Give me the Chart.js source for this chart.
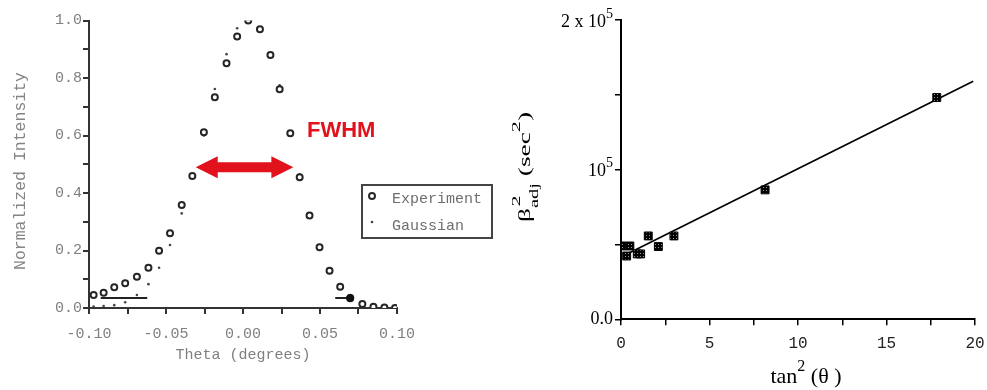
<!DOCTYPE html>
<html><head><meta charset="utf-8">
<script src="https://cdn.jsdelivr.net/npm/chart.js@4.4.1/dist/chart.umd.min.js"></script>
<style>
html,body{margin:0;padding:0;background:#fff;}
#wrap{position:relative;width:987px;height:390px;overflow:hidden;background:#fff;}
#c1box{position:absolute;left:0;top:0;width:520px;height:390px;}
#c2box{position:absolute;left:450px;top:0;width:537px;height:390px;}
</style></head><body>
<div id="wrap"><div id="c1box"><canvas id="c1"></canvas></div><div id="c2box"><canvas id="c2"></canvas></div></div>
<script>
// ---------- Left chart data ----------
const thetaDeg = [-0.097,-0.0905,-0.0836,-0.0765,-0.0689,-0.0614,-0.0545,-0.0474,-0.0398,-0.0329,-0.0254,-0.0183,-0.0107,-0.0038,0.0034,0.011,0.0178,0.0238,0.0307,0.0368,0.0432,0.0497,0.0562,0.0631,0.0696,0.0775,0.0847,0.0918,0.0987];
const expIntensity = [0.045,0.053,0.072,0.086,0.109,0.140,0.199,0.260,0.358,0.459,0.611,0.733,0.851,0.944,1.000,0.970,0.880,0.761,0.608,0.455,0.322,0.211,0.130,0.074,0.034,0.014,0.004,0.002,0.0];
const gaussIntensity = [0.005,0.007,0.010,0.020,0.045,0.083,0.140,0.219,0.329,0.455,0.600,0.762,0.883,0.973,1.000,0.975,0.885,0.775,0.615,0.465,0.325,0.210,0.122,0.066,0.031,0.012,0.004,0.001,0.0];
const baseLeftX = [-0.0924,-0.0622];
const baseLeftY = [0.035,0.035];
const baseRightX = [0.0599,0.0696];
const baseRightY = [0.035,0.035];
const fwhmArrowX = [-0.0307,0.0327];
const fwhmArrowY = 0.49;
const leftXTicks = [-0.1,-0.075,-0.05,-0.025,0,0.025,0.05,0.075,0.1];
const leftXLabels = ['-0.10','','-0.05','','0.00','','0.05','','0.10'];
const leftYTicks = [0,0.1,0.2,0.3,0.4,0.5,0.6,0.7,0.8,0.9,1.0];
const leftYLabels = ['0.0','','0.2','','0.4','','0.6','','0.8','','1.0'];
const leftLegend = ['Experiment','Gaussian'];
const leftYTitle = 'Normalized Intensity';

// ---------- Right chart data ----------
const tan2Theta = [0.05,0.5,0.32,0.92,1.11,1.54,2.11,2.99,8.14,17.84];
const betaAdj2 = [49000,49000,42300,43700,43700,55700,48600,55700,86500,148200];
const fitX = [0.4,19.9];
const fitY = [44000,159000];
const rightXTicks = [0,2.5,5,7.5,10,12.5,15,17.5,20];
const rightXLabels = ['0','','5','','10','','15','','20'];
const rightYTicks = [0,50000,100000,150000,200000];
const rightYLabelVals = [0,100000,200000];
const rightYLabelMain = ['0.0','10','2 x 10'];
const rightYLabelSup = ['','5','5'];

const pairs = (xs, ys) => xs.map((x,i)=>({x:x, y:ys[i]}));
const MONO = '"Liberation Mono", "DejaVu Sans Mono", monospace';
const SERIF = '"Liberation Serif", "DejaVu Serif", serif';
const GRAYTXT = '#7f7f7f';

// ---------- Left chart ----------
const leftPlugin = {
  id:'leftExtras',
  afterDatasetsDraw(chart){
    const ctx = chart.ctx, xs = chart.scales.x, ys = chart.scales.y;
    // FWHM arrow
    const x1 = xs.getPixelForValue(fwhmArrowX[0]), x2 = xs.getPixelForValue(fwhmArrowX[1]);
    const y = ys.getPixelForValue(fwhmArrowY);
    const head = 22, hh = 11, sh = 5;
    ctx.save();
    ctx.fillStyle = '#e1121c';
    ctx.beginPath();
    ctx.moveTo(x1,y); ctx.lineTo(x1+head,y-hh); ctx.lineTo(x1+head,y-sh);
    ctx.lineTo(x2-head,y-sh); ctx.lineTo(x2-head,y-hh); ctx.lineTo(x2,y);
    ctx.lineTo(x2-head,y+hh); ctx.lineTo(x2-head,y+sh); ctx.lineTo(x1+head,y+sh);
    ctx.lineTo(x1+head,y+hh); ctx.closePath(); ctx.fill();
    // FWHM label
    ctx.font = 'bold 22px "Liberation Sans", Arial, sans-serif';
    ctx.textBaseline = 'middle'; ctx.textAlign = 'left';
    ctx.fillText('FWHM', 307, 131);
    // legend box
    ctx.strokeStyle = '#444'; ctx.lineWidth = 2;
    ctx.strokeRect(362,185,130,53);
    ctx.beginPath(); ctx.arc(372,196,3,0,Math.PI*2);
    ctx.fillStyle='#fff'; ctx.fill(); ctx.strokeStyle='#2a2a2a'; ctx.stroke();
    ctx.beginPath(); ctx.arc(372,222,1.3,0,Math.PI*2); ctx.fillStyle='#444'; ctx.fill();
    ctx.fillStyle = '#6e6e6e';
    ctx.font = '15px ' + MONO;
    ctx.fillText(leftLegend[0], 392, 199);
    ctx.fillText(leftLegend[1], 392, 226);
    // y title
    ctx.translate(21, 171);
    ctx.rotate(-Math.PI/2);
    ctx.textAlign = 'center';
    ctx.fillStyle = '#858585';
    ctx.font = '16.5px ' + MONO;
    ctx.fillText(leftYTitle, 0, 0);
    ctx.restore();
  }
};

new Chart(document.getElementById('c1'), {
  type:'scatter',
  data:{datasets:[
    {label:'baseL', data:pairs(baseLeftX, baseLeftY), showLine:true, borderColor:'#222', borderWidth:2, pointRadius:0},
    {label:'baseR', data:pairs(baseRightX, baseRightY), showLine:true, borderColor:'#222', borderWidth:2, pointRadius:[0,3.6], pointBackgroundColor:'#111', pointBorderColor:'#111', pointBorderWidth:1},
    {label:leftLegend[0], data:pairs(thetaDeg, expIntensity), pointStyle:'circle', pointRadius:3, pointBorderWidth:2, pointBorderColor:'#262626', pointBackgroundColor:'#fff'},
    {label:leftLegend[1], data:pairs(thetaDeg, gaussIntensity), pointStyle:'circle', pointRadius:1.3, pointBorderWidth:0, pointBackgroundColor:'#444', pointBorderColor:'#444'}
  ]},
  options:{
    responsive:true, maintainAspectRatio:false, animation:false,
    layout:{padding:{left:0, top:20.5, right:123, bottom:0}},
    plugins:{legend:{display:false}, tooltip:{enabled:false}},
    scales:{
      x:{type:'linear', min:-0.1, max:0.1,
        afterBuildTicks:s=>{s.ticks = leftXTicks.map(v=>({value:v}));},
        afterFit:s=>{s.height = 82; s.paddingLeft = 0; s.paddingRight = 0;},
        grid:{display:true, drawOnChartArea:false, drawTicks:true, tickLength:6, color:'#333', lineWidth:2},
        border:{display:true, color:'#333', width:2},
        ticks:{autoSkip:false, maxRotation:0, padding:11, color:GRAYTXT, font:{family:MONO, size:15},
          callback:(v,i)=>leftXLabels[i]},
        title:{display:true, text:'Theta (degrees)', color:GRAYTXT, font:{family:MONO, size:15}, padding:{top:0,bottom:26}}
      },
      y:{type:'linear', min:0, max:1,
        afterBuildTicks:s=>{s.ticks = leftYTicks.map(v=>({value:v}));},
        afterFit:s=>{s.width = 89; s.paddingTop = 0; s.paddingBottom = 0;},
        grid:{display:true, drawOnChartArea:false, drawTicks:true, tickLength:6, color:'#333', lineWidth:2},
        border:{display:true, color:'#333', width:2},
        ticks:{autoSkip:false, padding:1, color:GRAYTXT, font:{family:MONO, size:15},
          callback:(v,i)=>leftYLabels[i]}
      }
    }
  },
  plugins:[leftPlugin]
});

// ---------- Right chart ----------
const pat = document.createElement('canvas'); pat.width = 3; pat.height = 3;
const pctx = pat.getContext('2d');
pctx.fillStyle = '#000'; pctx.fillRect(0,0,3,3);
pctx.fillStyle = '#999'; pctx.fillRect(1,1,1,1);
const c2ctx = document.getElementById('c2').getContext('2d');
const squareFill = c2ctx.createPattern(pat, 'repeat');

function drawParts(ctx, parts, x, y, align){
  let total = 0;
  parts.forEach(p=>{ctx.font = p.size+'px '+SERIF; p.w = ctx.measureText(p.t).width; total += p.w;});
  let cx = align === 'right' ? x - total : x;
  parts.forEach(p=>{ctx.font = p.size+'px '+SERIF; ctx.fillText(p.t, cx, y + (p.dy||0)); cx += p.w;});
}

const rightPlugin = {
  id:'rightExtras',
  afterDraw(chart){
    const ctx = chart.ctx, ys = chart.scales.y, ca = chart.chartArea;
    ctx.save();
    ctx.fillStyle = '#000';
    ctx.textBaseline = 'middle'; ctx.textAlign = 'left';
    // y tick labels
    rightYLabelVals.forEach((v,i)=>{
      const py = ys.getPixelForValue(v) + (i===0?0:2);
      const parts = [{t:rightYLabelMain[i], size:18, dy:0}];
      if (rightYLabelSup[i]) parts.push({t:rightYLabelSup[i], size:14, dy:-8});
      drawParts(ctx, parts, ca.left - 8, py, 'right');
    });
    // x title: tan^2(θ )
    ctx.textBaseline = 'alphabetic';
    const midX = (ca.left + ca.right)/2;
    const xt = [{t:'tan', size:22, dy:0},{t:'2', size:16, dy:-12},{t:' (θ )', size:22, dy:0}];
    let tw = 0; xt.forEach(p=>{ctx.font=p.size+'px '+SERIF; tw += ctx.measureText(p.t).width;});
    drawParts(ctx, xt, midX + 8 - tw/2, 383, 'left');
    ctx.restore();
    // y title: β_adj^2 (sec^2), rotated, stretched along text direction
    const baseX = 530 - 450, startY = 222, targetLen = 110;
    const yparts = [
      {t:'β', size:16, dy:0, adv:true},
      {t:'adj', size:12, dy:8, adv:false},
      {t:'2', size:13, dy:-10, adv:'max'},
      {t:' (sec', size:16, dy:0, adv:true},
      {t:'2', size:13, dy:-10, adv:true},
      {t:')', size:16, dy:0, adv:true}
    ];
    yparts.forEach(p=>{ctx.font=p.size+'px '+SERIF; p.w = ctx.measureText(p.t).width;});
    let nat = 0;
    for (let i=0;i<yparts.length;i++){
      const p = yparts[i];
      if (p.adv === false){ nat += Math.max(p.w, yparts[i+1].w); i++; }
      else nat += p.w;
    }
    const sx = targetLen / nat;
    ctx.save();
    ctx.fillStyle = '#000'; ctx.textBaseline = 'alphabetic'; ctx.textAlign = 'left';
    ctx.translate(baseX, startY);
    ctx.rotate(-Math.PI/2);
    ctx.scale(sx, 1);
    let cx = 0;
    for (let i=0;i<yparts.length;i++){
      const p = yparts[i];
      ctx.font = p.size+'px '+SERIF;
      if (p.adv === false){
        const q = yparts[i+1];
        ctx.fillText(p.t, cx, p.dy);
        ctx.font = q.size+'px '+SERIF;
        ctx.fillText(q.t, cx + 1, q.dy);
        cx += Math.max(p.w, q.w); i++;
      } else {
        ctx.fillText(p.t, cx, p.dy); cx += p.w;
      }
    }
    ctx.restore();
  }
};

new Chart(document.getElementById('c2'), {
  type:'scatter',
  data:{datasets:[
    {label:'data', data:pairs(tan2Theta, betaAdj2), pointStyle:'rect', pointRadius:5.6, pointBackgroundColor:squareFill, pointBorderColor:'#000', pointBorderWidth:1},
    {label:'fit', data:pairs(fitX, fitY), showLine:true, borderColor:'#000', borderWidth:1.7, pointRadius:0}
  ]},
  options:{
    responsive:true, maintainAspectRatio:false, animation:false,
    layout:{padding:{left:0, top:20, right:12, bottom:0}},
    plugins:{legend:{display:false}, tooltip:{enabled:false}},
    scales:{
      x:{type:'linear', min:0, max:20,
        afterBuildTicks:s=>{s.ticks = rightXTicks.map(v=>({value:v}));},
        afterFit:s=>{s.height = 70.7; s.paddingLeft = 0; s.paddingRight = 0;},
        grid:{display:true, drawOnChartArea:false, drawTicks:true, tickLength:6, color:'#000', lineWidth:1.5},
        border:{display:true, color:'#000', width:2},
        ticks:{autoSkip:false, maxRotation:0, padding:9, color:'#222', font:{family:MONO, size:16},
          callback:(v,i)=>rightXLabels[i]}
      },
      y:{type:'linear', min:0, max:200000,
        afterBuildTicks:s=>{s.ticks = rightYTicks.map(v=>({value:v}));},
        afterFit:s=>{s.width = 171; s.paddingTop = 0; s.paddingBottom = 0;},
        grid:{display:true, drawOnChartArea:false, drawTicks:true, tickLength:6, color:'#000', lineWidth:1.5},
        border:{display:true, color:'#000', width:2},
        ticks:{display:false}
      }
    }
  },
  plugins:[rightPlugin]
});
</script>
</body></html>
